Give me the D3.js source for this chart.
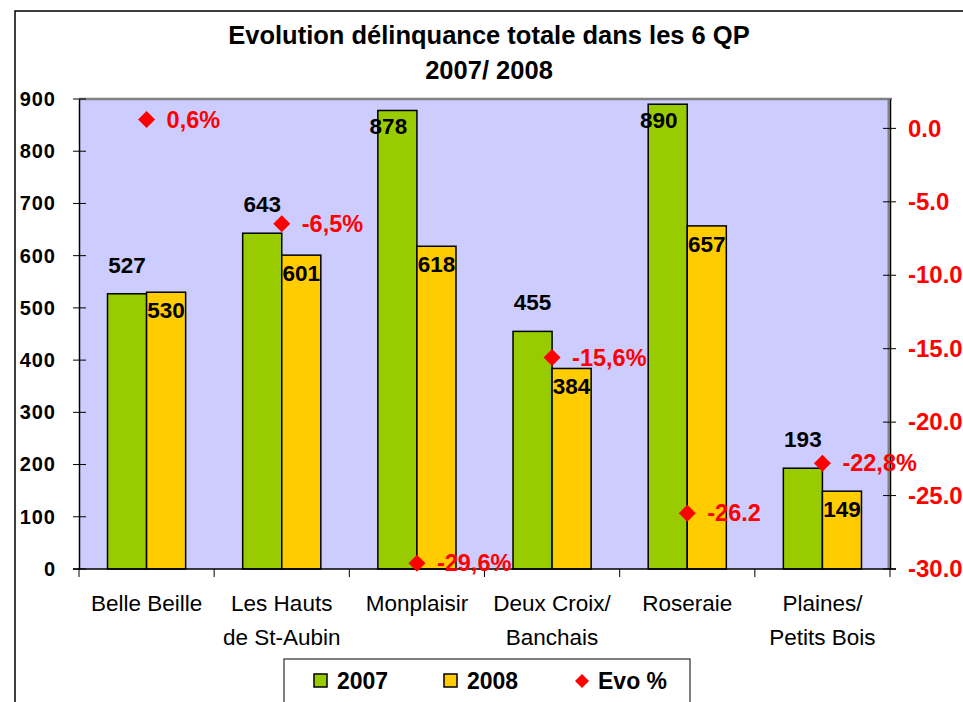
<!DOCTYPE html>
<html lang="fr">
<head>
<meta charset="UTF-8">
<title>Evolution délinquance</title>
<style>
  body { margin: 0; background: #fff; }
  svg { display: block; font-family: "Liberation Sans", Arial, sans-serif; }
</style>
</head>
<body>
<script src="https://cdn.jsdelivr.net/npm/d3@7"></script>
<script>
var categories = [["Belle Beille"], ["Les Hauts", "de St-Aubin"], ["Monplaisir"], ["Deux Croix/", "Banchais"], ["Roseraie"], ["Plaines/", "Petits Bois"]];
var values2007 = [527, 643, 878, 455, 890, 193];
var values2008 = [530, 601, 618, 384, 657, 149];
var evo = [0.6, -6.5, -29.6, -15.6, -26.2, -22.8];
var evoLabels = ["0,6%", "-6,5%", "-29,6%", "-15,6%", "-26.2", "-22,8%"];
var leftTicks = [0, 100, 200, 300, 400, 500, 600, 700, 800, 900];
var rightTicks = [0, -5, -10, -15, -20, -25, -30];
var seriesNames = ["2007", "2008", "Evo %"];

var width = 963, height = 702;
var plot = { left: 79, right: 890, top: 99, bottom: 569 };

var svg = d3.select("body").append("svg").attr("width", width).attr("height", height);

// outer frame
svg.append("rect").attr("x", 15).attr("y", 11).attr("width", 1000).attr("height", 800)
   .attr("fill", "#fff").attr("stroke", "#000").attr("stroke-width", 1.5);

// title
svg.append("text").attr("x", 489).attr("y", 44).attr("text-anchor", "middle")
   .attr("font-size", 25.5).attr("font-weight", "bold").text("Evolution délinquance totale dans les 6 QP");
svg.append("text").attr("x", 489).attr("y", 79).attr("text-anchor", "middle")
   .attr("font-size", 25.5).attr("font-weight", "bold").text("2007/ 2008");

var keys = categories.map(function (c) { return c.join(" "); });
var x0 = d3.scaleBand().domain(keys).range([plot.left, plot.right]);
var x1 = d3.scaleBand().domain(["2007", "2008"]).range([0, x0.bandwidth()]).paddingOuter(0.73);
var y = d3.scaleLinear().domain([0, 900]).range([plot.bottom, plot.top]);
var y2 = d3.scaleLinear().domain([-30, 2]).range([plot.bottom, plot.top]);

// plot background
svg.append("rect").attr("x", plot.left).attr("y", plot.top)
   .attr("width", plot.right - plot.left).attr("height", plot.bottom - plot.top)
   .attr("fill", "#CCCCFF");
svg.append("line").attr("x1", plot.left).attr("x2", plot.right + 2).attr("y1", plot.top).attr("y2", plot.top)
   .attr("stroke", "#808080").attr("stroke-width", 2.5);
svg.append("line").attr("x1", plot.right - 1.5).attr("x2", plot.right - 1.5).attr("y1", plot.top).attr("y2", plot.bottom)
   .attr("stroke", "#808080").attr("stroke-width", 2);

// bars
var rows = keys.map(function (k, i) { return { key: k, v: [values2007[i], values2008[i]] }; });
var colors = ["#99CC00", "#FFCC00"];
var g = svg.selectAll("g.cat").data(rows).enter().append("g").attr("class", "cat")
   .attr("transform", function (d) { return "translate(" + x0(d.key) + ",0)"; });
g.selectAll("rect").data(function (d) { return d.v.map(function (v, j) { return { s: x1.domain()[j], v: v, j: j }; }); })
 .enter().append("rect")
 .attr("x", function (d) { return x1(d.s); })
 .attr("width", x1.bandwidth())
 .attr("y", function (d) { return y(d.v); })
 .attr("height", function (d) { return plot.bottom - y(d.v); })
 .attr("fill", function (d) { return colors[d.j]; })
 .attr("stroke", "#000").attr("stroke-width", 1.5);

// bar labels
g.selectAll("text").data(function (d) { return d.v.map(function (v, j) { return { s: x1.domain()[j], v: v, j: j }; }); })
 .enter().append("text")
 .attr("x", function (d) {
   var cx = x1(d.s) + x1.bandwidth() / 2;
   return (d.j === 0 && y(d.v) - 21 < plot.top + 20) ? cx - 9 : cx;
 })
 .attr("y", function (d) {
   if (d.j === 1) return y(d.v) + 26;
   var yy = y(d.v) - 21;
   return yy < plot.top + 20 ? y(d.v) + 24 : yy;
 })
 .attr("text-anchor", "middle").attr("font-size", 22.5).attr("font-weight", "bold")
 .text(function (d) { return d.v; });

// axes
var yAxis = d3.axisLeft(y).tickValues(leftTicks).tickSize(0).tickPadding(23);
svg.append("g").attr("transform", "translate(" + plot.left + ",0)").call(yAxis)
   .call(function (a) {
     a.select(".domain").attr("stroke", "#000").attr("stroke-width", 1.5);
     a.selectAll("text").attr("font-size", 20).attr("font-weight", "bold").attr("fill", "#000")
      .attr("font-family", "Liberation Sans, Arial, sans-serif").attr("letter-spacing", 1);
   });
svg.append("g").selectAll("line").data(leftTicks).enter().append("line")
   .attr("x1", plot.left - 6).attr("x2", plot.left + 7)
   .attr("y1", function (d) { return y(d); }).attr("y2", function (d) { return y(d); })
   .attr("stroke", "#000").attr("stroke-width", 1);

var y2Axis = d3.axisRight(y2).tickValues(rightTicks).tickSize(0).tickPadding(18)
   .tickFormat(function (d) { return d.toFixed(1); });
svg.append("g").attr("transform", "translate(" + plot.right + ",0)").call(y2Axis)
   .call(function (a) {
     a.select(".domain").attr("stroke", "#000").attr("stroke-width", 1.5);
     a.selectAll("text").attr("font-size", 24).attr("font-weight", "bold").attr("fill", "#FF0000")
      .attr("font-family", "Liberation Sans, Arial, sans-serif");
   });
svg.append("g").selectAll("line").data(rightTicks).enter().append("line")
   .attr("x1", plot.right - 7).attr("x2", plot.right + 6)
   .attr("y1", function (d) { return y2(d); }).attr("y2", function (d) { return y2(d); })
   .attr("stroke", "#000").attr("stroke-width", 1);

// x axis
svg.append("line").attr("x1", plot.left - 6).attr("x2", plot.right + 6).attr("y1", plot.bottom).attr("y2", plot.bottom)
   .attr("stroke", "#000").attr("stroke-width", 1.5);
var bounds = keys.map(function (k) { return x0(k); }).concat([plot.right]);
svg.append("g").selectAll("line").data(bounds).enter().append("line")
   .attr("x1", function (d) { return d; }).attr("x2", function (d) { return d; })
   .attr("y1", plot.bottom).attr("y2", plot.bottom + 8)
   .attr("stroke", "#000").attr("stroke-width", 1);
var catText = svg.append("g").selectAll("text").data(categories).enter().append("text")
   .attr("x", function (d, i) { return x0(keys[i]) + x0.bandwidth() / 2; })
   .attr("y", 611).attr("text-anchor", "middle").attr("font-size", 22.5);
catText.selectAll("tspan").data(function (d) { return d; }).enter().append("tspan")
   .attr("x", function () { return d3.select(this.parentNode).attr("x"); })
   .attr("dy", function (d, i) { return i === 0 ? 0 : 34; })
   .text(function (d) { return d; });

// evo diamonds
var diamond = "M0,-8.5L8.5,0L0,8.5L-8.5,0Z";
svg.append("g").selectAll("path").data(evo).enter().append("path")
   .attr("d", diamond)
   .attr("transform", function (d, i) { return "translate(" + (x0(keys[i]) + x0.bandwidth() / 2) + "," + y2(d) + ")"; })
   .attr("fill", "#FF0000");
svg.append("g").selectAll("text").data(evo).enter().append("text")
   .attr("x", function (d, i) { return x0(keys[i]) + x0.bandwidth() / 2 + 20; })
   .attr("y", function (d) { return y2(d) + 8; })
   .attr("font-size", 23.5).attr("font-weight", "bold").attr("fill", "#FF0000")
   .text(function (d, i) { return evoLabels[i]; });

// legend
var leg = svg.append("g");
leg.append("rect").attr("x", 284).attr("y", 659).attr("width", 406).attr("height", 80)
   .attr("fill", "#fff").attr("stroke", "#000").attr("stroke-width", 1);
var legX = [314, 444, 575];
seriesNames.forEach(function (name, i) {
  if (i < 2) {
    leg.append("rect").attr("x", legX[i]).attr("y", 674).attr("width", 13).attr("height", 13)
       .attr("fill", colors[i]).attr("stroke", "#000").attr("stroke-width", 1.5);
  } else {
    leg.append("path").attr("d", "M0,-7L7,0L0,7L-7,0Z").attr("transform", "translate(" + (legX[i] + 7) + ",681)")
       .attr("fill", "#FF0000");
  }
  leg.append("text").attr("x", legX[i] + 23).attr("y", 689).attr("font-size", 23).attr("font-weight", "bold")
     .text(name);
});
</script>
</body>
</html>
